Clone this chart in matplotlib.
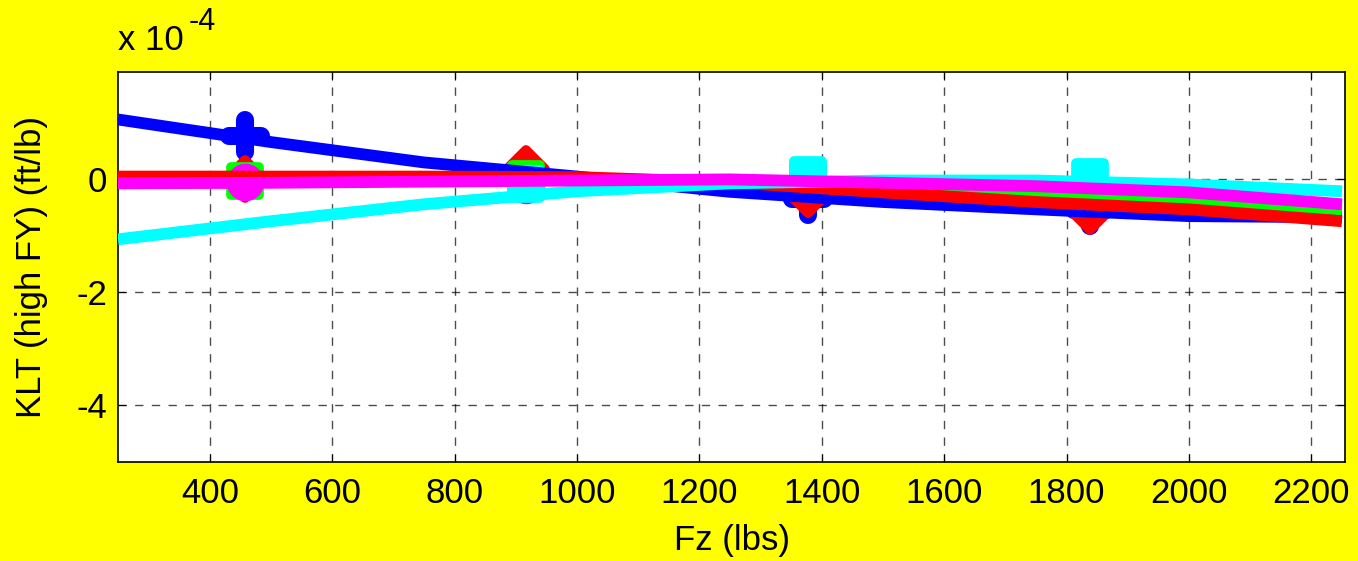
import matplotlib
matplotlib.use("Agg")
import matplotlib.pyplot as plt
from matplotlib.markers import MarkerStyle

plt.rcParams['font.family'] = ['Liberation Sans', 'DejaVu Sans']

# fitted curves (values in 1e-4 ft/lb)
fz_fit = [250, 500, 750, 1000, 1250, 1500, 1750, 2000, 2250]
blue_fit = [1.06, 0.66, 0.30, 0.05, -0.22, -0.40, -0.53, -0.65, -0.67]
green_fit = [0.02, 0.02, 0.02, 0.01, -0.03, -0.15, -0.28, -0.40, -0.53]
red_fit = [0.05, 0.05, 0.05, 0.04, -0.05, -0.23, -0.40, -0.53, -0.74]
cyan_fit = [-1.06, -0.74, -0.44, -0.21, -0.07, -0.02, -0.02, -0.09, -0.21]
magenta_fit = [-0.07, -0.06, -0.04, -0.02, 0.0, -0.06, -0.12, -0.23, -0.44]

# measured points
fz_pts = [457, 917, 1377, 1838]
fz_pts_cyan = [917, 1377, 1838]
blue_pts = [0.76, 0.05, -0.35, -0.55]
green_pts = [-0.03, 0.0, 0.0, -0.3]
red_pts = [0.0, 0.18, -0.26, -0.56]
cyan_pts = [-0.08, 0.08, 0.05]
magenta_pts = [-0.05, -0.1, 0.0, -0.15]

scale = 1e-4
# marker drawing order
series = [
    ("blue", fz_pts, blue_pts, blue_fit, "+"),
    ("red", fz_pts, red_pts, red_fit, "D"),
    ("#00ff00", fz_pts, green_pts, green_fit, "s"),
    ("magenta", fz_pts, magenta_pts, magenta_fit, "o"),
    ("cyan", fz_pts_cyan, cyan_pts, cyan_fit, "s"),
]

fig = plt.figure(figsize=(13.58, 5.61), dpi=100, facecolor="yellow")
ax = fig.add_axes([118 / 1358, 1 - 462 / 561, (1345 - 118) / 1358, (462 - 72) / 561])
ax.set_facecolor("white")

# markers first, then the lines on top
for color, xs, pts, fit, mk in series:
    if mk == "+":
        style = MarkerStyle(mk, capstyle="round")
        ms, mew = 23, 13
    else:
        style = MarkerStyle(mk, joinstyle="round")
        ms, mew = 19 if mk == "D" else 20, 7
    ax.plot(xs, [v * scale for v in pts], linestyle="none", marker=style,
            markersize=ms, color=color, markeredgecolor=color,
            markeredgewidth=mew, zorder=2)
for color, xs, pts, fit, mk in [series[0], series[2], series[1], series[4], series[3]]:
    ax.plot(fz_fit, [v * scale for v in fit], color=color, linewidth=8.5,
            solid_capstyle="butt", zorder=3)

ax.set_xlim(250, 2255)
ax.set_ylim(-5e-4, 1.9e-4)
ax.set_xticks(range(400, 2201, 200))
ax.set_yticks([-4e-4, -2e-4, 0])
ax.set_yticklabels(["-4", "-2", "0"])
ax.grid(True, color="black", linestyle=(0, (6, 6)), linewidth=1, alpha=0.7)
ax.tick_params(direction="in", labelsize=25, length=6, top=True, right=True)
ax.tick_params(axis="x", pad=11)
ax.tick_params(axis="y", pad=8)
for s in ax.spines.values():
    s.set_linewidth(1.2)

ax.set_xlabel("Fz (lbs)", fontsize=25, labelpad=10)
ax.set_ylabel("KLT (high FY) (ft/lb)", fontsize=25, labelpad=20)
fig.text(118 / 1358, 1 - 40 / 561, "x 10", fontsize=25, va="center")
fig.text(189 / 1358, 1 - 22 / 561, "-4", fontsize=22, va="center")

fig.savefig("out.png", dpi=100, facecolor="yellow")
